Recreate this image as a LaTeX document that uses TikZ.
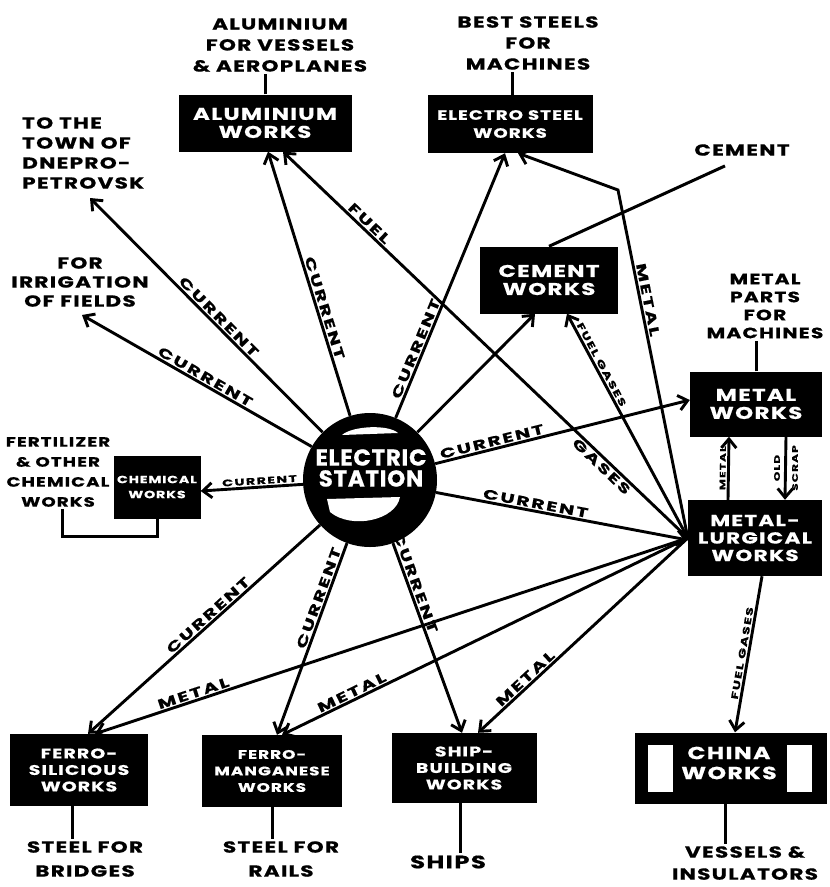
\documentclass[tikz,border=0pt]{standalone}
\usepackage{fontspec}
\usetikzlibrary{arrows.meta}
\newfontfamily\hand{Poppins}[FakeStretch=1.35,LetterSpace=8,FakeBold=0.6]
\newfontfamily\handc{Poppins}[FakeStretch=1.5,LetterSpace=15,FakeBold=0.5]
\newfontfamily\handn{Poppins}[LetterSpace=3,FakeBold=0.6]
\begin{document}
\begin{tikzpicture}[x=1pt,y=-1pt,
  box/.style={fill=black, text=white, align=center, inner sep=0pt, font=\hand\bfseries\fontsize{17}{18}\selectfont},
  lab/.style={align=center, inner sep=2pt, font=\hand\bfseries\fontsize{16}{21}\selectfont},
  flow/.style={line width=2.9pt, -{Straight Barb[length=9pt,width=15pt]}},
  conn/.style={line width=3pt},
  cur/.style={sloped, inner sep=1.5pt, font=\handc\bfseries\fontsize{13.5}{13.5}\selectfont},
  scur/.style={sloped, inner sep=1.5pt, font=\handc\bfseries\fontsize{9.5}{9.5}\selectfont}]
\useasboundingbox (0,0) rectangle (830,887);
\fill[white] (0,0) rectangle (830,887);

% works
\node[box, minimum width=173pt, minimum height=57pt] (alw) at (265,123) {ALUMINIUM\\WORKS};
\node[box, minimum width=165pt, minimum height=58pt, font=\hand\bfseries\fontsize{13.5}{18}\selectfont] (esw) at (510,124) {ELECTRO STEEL\\WORKS};
\node[box, minimum width=138pt, minimum height=67pt] (cw) at (549,280) {CEMENT\\WORKS};
\node[box, minimum width=132pt, minimum height=65pt] (mw) at (756,404) {METAL\\WORKS};
\node[box, minimum width=134pt, minimum height=76pt, font=\hand\bfseries\fontsize{16}{17.5}\selectfont] (mlw) at (755,538) {METAL-\\LURGICAL\\WORKS};
\node[box, minimum width=87pt, minimum height=63pt, font=\hand\bfseries\fontsize{10.5}{15}\selectfont] (chw) at (157,487) {CHEMICAL\\WORKS};
\node[box, minimum width=138pt, minimum height=72pt, font=\hand\bfseries\fontsize{14}{16.5}\selectfont] (fsw) at (79,770) {FERRO-\\SILICIOUS\\WORKS};
\node[box, minimum width=140pt, minimum height=72pt, font=\hand\bfseries\fontsize{12.5}{16.5}\selectfont] (fmw) at (272,771) {FERRO-\\MANGANESE\\WORKS};
\node[box, minimum width=145pt, minimum height=70pt, font=\hand\bfseries\fontsize{14}{16.5}\selectfont] (sbw) at (464,768) {SHIP-\\BUILDING\\WORKS};
\node[box, minimum width=192pt, minimum height=71pt] (chn) at (731,768) {};
\fill[white] (648,745) rectangle (673,792);
\fill[white] (787,745) rectangle (812,792);
\node[text=white, align=center, inner sep=0pt, font=\hand\bfseries\fontsize{17.5}{20}\selectfont] (chntx) at (729,763) {CHINA\\WORKS};

% electric station
\node[circle, fill=black, minimum size=134pt, inner sep=0pt] (es) at (370,480) {};
\fill[white] (342,435) .. controls (352,426) and (388,424) .. (398,433) -- cycle;
\fill[white] (327,499) -- (400,497) .. controls (396,520) and (352,530) .. (330,512) -- cycle;
\node[text=white, align=center, inner sep=0pt, font=\handn\bfseries\fontsize{23}{21}\selectfont] (estx) at (371,468) {ELECTRIC\\STATION};

% text labels
\node[lab] (allab) at (280,45) {ALUMINIUM\\FOR VESSELS\\\&~AEROPLANES};
\node[lab] (bslab) at (528,43) {BEST STEELS\\FOR\\MACHINES};
\node[lab] (cemlab) at (742,150) {CEMENT};
\node[lab, align=left, anchor=west, font=\hand\bfseries\fontsize{16}{20}\selectfont] (dnlab) at (20,153) {TO THE\\TOWN OF\\DNEPRO-\\PETROVSK};
\node[lab, font=\hand\bfseries\fontsize{16}{19}\selectfont] (irlab) at (80,282) {FOR\\IRRIGATION\\OF FIELDS};
\node[lab, font=\hand\bfseries\fontsize{13.5}{20}\selectfont] (fertlab) at (58,472) {FERTILIZER\\\&~OTHER\\CHEMICAL\\WORKS};
\node[lab, font=\hand\bfseries\fontsize{15}{18}\selectfont] (mplab) at (765,306) {METAL\\PARTS\\FOR\\MACHINES};
\node[lab, font=\hand\bfseries\fontsize{16}{24}\selectfont] (brlab) at (85,859) {STEEL FOR\\BRIDGES};
\node[lab, font=\hand\bfseries\fontsize{16}{24}\selectfont] (rllab) at (281,859) {STEEL FOR\\RAILS};
\node[lab, font=\hand\bfseries\fontsize{18}{24}\selectfont] (shlab) at (448,862) {SHIPS};
\node[lab, font=\hand\bfseries\fontsize{16}{22}\selectfont] (vslab) at (745,863) {VESSELS \&\\INSULATORS};

\coordinate (dn) at (90,198);
\coordinate (ir) at (82,315);
\coordinate (bend) at (618,190);

% connectors to labels
\coordinate (a1) at (alw.north);
\draw[conn] (a1) -- (a1 |- allab.south);
\coordinate (e1) at ([xshift=2pt]esw.north);
\draw[conn] (e1) -- (e1 |- bslab.south);
\draw[conn] (cw.north) -- ([xshift=-17pt,yshift=-8pt]cemlab.south);
\coordinate (m1) at (mw.north);
\draw[conn] (m1) -- (m1 |- mplab.south);
\draw[conn] ([xshift=4pt]fertlab.south) |- ([yshift=-18pt]chw.south) -- (chw.south);
\coordinate (f1) at ([xshift=-7pt]fsw.south);
\draw[conn] (f1) -- (f1 |- brlab.north);
\coordinate (f2) at (fmw.south);
\draw[conn] (f2) -- (f2 |- rllab.north);
\coordinate (s1) at ([xshift=-4pt]sbw.south);
\draw[conn] (s1) -- (s1 |- shlab.north);
\coordinate (c1) at ([xshift=-6pt]chn.south);
\draw[conn] (c1) -- (c1 |- vslab.north);

% current from the station
\draw[flow] (es) -- (dn) node[cur,pos=.47,above]{CURRENT};
\draw[flow] (es) -- (ir) node[cur,pos=.48,above]{CURRENT};
\draw[flow] (es) -- ([xshift=3pt]alw.south) node[cur,pos=.40,above]{CURRENT};
\draw[flow] (es) -- ([xshift=-5pt]esw.south) node[cur,pos=.25,above]{CURRENT};
\draw[flow] (es) -- ([xshift=-14pt]cw.south);
\draw[flow] (es) -- ([yshift=4pt]mw.west) node[cur,pos=.23,above]{CURRENT};
\draw[flow] (es) -- ([yshift=-2pt]mlw.west) node[cur,pos=.39,above]{CURRENT};
\draw[flow] (es) -- ([xshift=9pt]fsw.north) node[cur,pos=.46,above]{CURRENT};
\draw[flow] (es) -- ([xshift=5pt]fmw.north) node[cur,pos=.3,above]{CURRENT};
\draw[flow] (es) -- ([xshift=-2pt]sbw.north) node[cur,pos=.22,above]{CURRENT};
\draw[flow] (es) -- ([yshift=-4pt]chw.east) node[scur,pos=.42,above]{CURRENT};

% from the metallurgical works
\draw[flow] (mlw.west) -- ([xshift=18pt]alw.south) node[cur,pos=.8,above]{FUEL} node[cur,pos=.2,below]{GASES};
\draw[flow] (mlw.west) -- node[cur,pos=.68,above]{METAL} (bend) -- ([xshift=8pt]esw.south);
\draw[flow] (mlw.west) -- ([xshift=18pt]cw.south) node[scur,pos=.76,above]{FUEL GASES};
\draw[flow] (mlw.west) -- ([xshift=16pt]fsw.north) node[cur,pos=.83,above]{METAL};
\draw[flow] (mlw.west) -- ([xshift=10pt]fmw.north) node[cur,pos=.82,above]{METAL};
\draw[flow] (mlw.west) -- ([xshift=14pt]sbw.north) node[cur,pos=.75,above]{METAL};
\draw[flow] ([xshift=-27pt]mlw.north) -- ([xshift=-27pt]mw.south) node[scur,pos=.5,above,font=\handc\bfseries\fontsize{8}{8}\selectfont]{METAL};
\draw[flow] ([xshift=30pt]mw.south) -- ([xshift=30pt]mlw.north);
\node[rotate=90, align=center, inner sep=0pt, font=\handc\bfseries\fontsize{8}{18}\selectfont] (oslab) at (786,468) {OLD\\SCRAP};
\draw[flow] ([xshift=7pt]mlw.south) -- ([xshift=4pt]chn.north) node[scur,pos=.5,above]{FUEL GASES};
\end{tikzpicture}
\end{document}
